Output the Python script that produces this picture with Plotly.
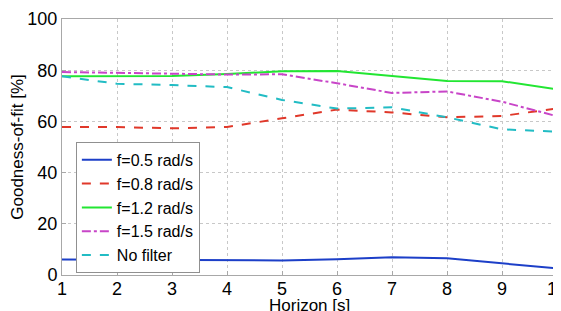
import plotly.graph_objects as go

horizon = [1, 2, 3, 4, 5, 6, 7, 8, 9, 10]
f05 = [6.1, 6.0, 6.1, 6.0, 5.7, 6.2, 6.9, 6.5, 4.6, 2.6]
f08 = [57.8, 57.8, 57.3, 57.8, 61.2, 64.6, 63.5, 61.6, 62.1, 65.1]
f12 = [77.6, 77.6, 77.7, 78.5, 79.6, 79.7, 77.8, 75.8, 75.7, 72.5]
f15 = [79.3, 79.0, 78.5, 78.3, 78.4, 74.9, 71.1, 71.7, 67.7, 62.0]
nofilt = [77.6, 74.7, 74.2, 73.4, 68.4, 65.0, 65.5, 61.6, 56.9, 56.0]

names = ["f=0.5 rad/s", "f=0.8 rad/s", "f=1.2 rad/s", "f=1.5 rad/s", "No filter"]
colors = ["#1c3fc8", "#e0382a", "#22e632", "#c845c8", "#22bcc4"]
dashes = ["solid", "dash", "solid", "dashdot", "dash"]
series = [f05, f08, f12, f15, nofilt]

fig = go.Figure()
for n, c, d, s in zip(names, colors, dashes, series):
    fig.add_trace(go.Scatter(x=horizon, y=s, mode="lines", name=n,
                             line=dict(color=c, dash=d, width=2)))

axis_common = dict(
    showgrid=True, gridcolor="#c8c8c8", griddash="dot", gridwidth=1,
    showline=True, linecolor="#a8a8a8", linewidth=1, mirror=True,
    ticks="inside", ticklen=4, tickcolor="#a8a8a8",
    zeroline=False, tickfont=dict(size=18, color="black"),
    automargin=False, ticklabeloverflow="allow",
)

# page body has an 8px default margin, so the figure is sized to fit the window
fig.update_layout(
    width=553, height=303,
    margin=dict(l=54, r=4, t=11, b=36),
    paper_bgcolor="white", plot_bgcolor="white",
    font=dict(family="Arial, Liberation Sans, sans-serif", size=17, color="black"),
    xaxis=dict(range=[1, 10], tickvals=horizon, ticklabelstandoff=-3, **axis_common),
    yaxis=dict(range=[0, 100], tickvals=[0, 20, 40, 60, 80, 100],
               title=dict(text="Goodness-of-fit [%]", standoff=2, font=dict(size=17)), **axis_common),
    legend=dict(x=0.028, y=0.52, xanchor="left", yanchor="top",
                bgcolor="white", bordercolor="#909090", borderwidth=1,
                font=dict(size=16), tracegroupgap=0, itemwidth=30),
    showlegend=True,
    annotations=[dict(text="Horizon [s]", x=0.5, xref="paper", y=-0.118, yref="paper",
                      xanchor="center", yanchor="middle", showarrow=False,
                      font=dict(size=17))],
)

fig.write_html("out.html")
